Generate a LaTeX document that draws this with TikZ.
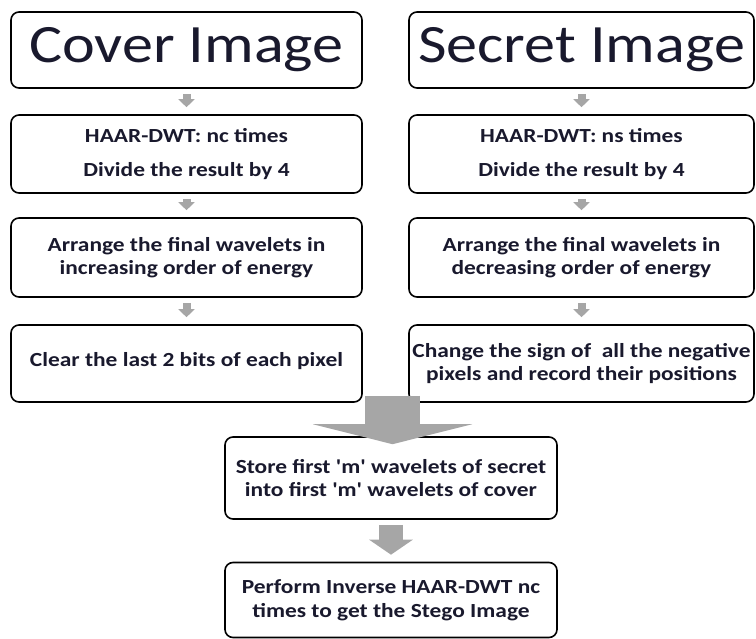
\documentclass[tikz,border=0pt]{standalone}
\usepackage{fontspec}
\setmainfont{Carlito}
\newfontfamily\titlefont[FakeStretch=1.15]{Carlito}
\newfontfamily\stepfont[FakeStretch=1.17]{Carlito Bold}
\usetikzlibrary{arrows.meta,calc}
\definecolor{arrowgray}{RGB}{166,166,166}
\definecolor{txt}{RGB}{25,25,45}
\tikzset{
  box/.style={draw=black, line width=1.6pt, rounded corners=8pt, fill=white, align=center, inner sep=0pt, text=txt, font=\stepfont\fontsize{20}{23.5}\selectfont},
  bigtitle/.style={font=\titlefont\fontsize{54}{60}\selectfont},
  smallarrow/.style={draw=arrowgray, line width=8pt, -{Triangle[width=16pt,length=8pt]}, shorten <=5pt, shorten >=7pt},
}
\begin{document}
\begin{tikzpicture}[x=1pt,y=-1pt]
\useasboundingbox (0,0) rectangle (756,639);
% left column
\node[box,bigtitle,minimum width=351pt,minimum height=76pt] (cover) at (186.5,50) {Cover Image};
\node[box,minimum width=351pt,minimum height=78pt] (haarL) at (186.5,154) {HAAR-DWT: nc times\\[10.5pt]Divide the result by 4};
\node[box,minimum width=351pt,minimum height=79pt] (arrL) at (186.5,257.5) {Arrange the final wavelets in\\increasing order of energy};
\node[box,minimum width=351pt,minimum height=77pt,text depth=8pt] (clearL) at (186.5,363.5) {Clear the last 2 bits of each pixel};
% right column
\node[box,bigtitle,minimum width=345pt,minimum height=76pt] (secret) at (581.5,50) {Secret Image};
\node[box,minimum width=345pt,minimum height=78pt] (haarR) at (581.5,154) {HAAR-DWT: ns times\\[10.5pt]Divide the result by 4};
\node[box,minimum width=345pt,minimum height=79pt] (arrR) at (581.5,257.5) {Arrange the final wavelets in\\decreasing order of energy};
\node[box,minimum width=345pt,minimum height=77pt] (chgR) at (581.5,363.5) {Change the sign of \ all the negative\\pixels and record their positions};
% bottom
\node[box,minimum width=332pt,minimum height=82pt] (store) at (391,478) {Store first 'm' wavelets of secret\\into first 'm' wavelets of cover};
\node[box,minimum width=332pt,minimum height=75pt] (perform) at (391,600) {Perform Inverse HAAR-DWT nc\\times to get the Stego Image};
% small arrows
\draw[smallarrow] (cover) -- (haarL);
\draw[smallarrow] (haarL) -- (arrL);
\draw[smallarrow] (arrL) -- (clearL);
\draw[smallarrow] (secret) -- (haarR);
\draw[smallarrow] (haarR) -- (arrR);
\draw[smallarrow] (arrR) -- (chgR);
% big arrow
\draw[draw=arrowgray, line width=55pt, -{Triangle[width=159pt,length=20pt]}]
  ([xshift=1.5pt,yshift=7pt]store.north |- clearL.south) -- ([xshift=1.5pt,yshift=-8pt]store.north);
\draw[draw=arrowgray, line width=24pt, -{Triangle[width=43pt,length=15pt]}, shorten <=5pt, shorten >=7pt]
  (store) -- (perform);
\end{tikzpicture}
\end{document}
